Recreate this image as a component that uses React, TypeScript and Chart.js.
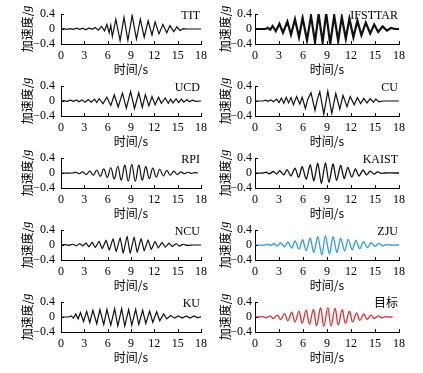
import React, { useEffect, useRef } from "react";
import { Chart, registerables } from "chart.js";
Chart.register(...registerables);

type P = [number, number];

const X_TICKS = [0, 3, 6, 9, 12, 15, 18];
const Y_TICKS = [-0.4, 0, 0.4];
const Y_TICK_LABELS: Record<string, string> = { "-0.4": "\u22120.4", "0": "0", "0.4": "0.4" };
const X_TITLE = "时间/s";
const Y_TITLE_MAIN = "加速度/";
const Y_TITLE_UNIT = "g";

const TIT: P[] = [[0,0],[0.4,0.01],[0.8,-0.01],[1.2,0.01],[1.6,-0.01],[2.0,0.02],[2.4,-0.01],[2.8,0.02],[3.2,-0.02],[3.6,0.03],[4.0,-0.01],[4.4,0.04],[4.8,-0.03],[5.2,0.07],[5.6,-0.05],[5.9,0.12],[6.2,-0.1],[6.4,0.1],[6.6,-0.2],[7.05,0.26],[7.6,-0.31],[8.1,0.31],[8.6,-0.3],[9.15,0.36],[9.7,-0.27],[10.2,0.26],[10.7,-0.22],[11.2,0.22],[11.7,-0.16],[12.1,0.19],[12.6,-0.13],[13.1,0.12],[13.6,-0.1],[14.0,0.09],[14.5,-0.07],[14.9,0.06],[15.3,-0.04],[15.7,0.01],[16.2,0],[17,0],[18,0]];
const IFSTTAR: P[] = [[0,0],[1.3,0],[1.6,0.03],[1.9,-0.02],[2.2,0.08],[2.6,-0.06],[3.05,0.14],[3.5,-0.1],[4.05,0.2],[4.5,-0.15],[5.0,0.26],[5.5,-0.22],[5.95,0.3],[6.5,-0.3],[7.0,0.35],[7.5,-0.35],[7.95,0.4],[8.45,-0.36],[8.9,0.42],[9.4,-0.4],[9.9,0.36],[10.4,-0.32],[10.85,0.32],[11.35,-0.26],[11.8,0.28],[12.3,-0.22],[12.8,0.22],[13.3,-0.17],[13.85,0.17],[14.4,-0.12],[14.9,0.12],[15.4,-0.08],[15.95,0.07],[16.5,-0.04],[17.0,0.03],[17.5,0],[18,0]];
const UCD: P[] = [[0,0],[0.4,0.01],[0.8,-0.01],[1.2,0.02],[1.6,-0.01],[2.0,0.03],[2.3,-0.02],[2.7,0.03],[3.1,-0.03],[3.5,0.04],[3.9,-0.03],[4.3,0.05],[4.6,-0.04],[4.9,0.06],[5.4,-0.07],[5.9,0.1],[6.4,-0.12],[6.85,0.16],[7.35,-0.16],[7.9,0.21],[8.4,-0.19],[8.95,0.25],[9.45,-0.2],[10.0,0.22],[10.45,-0.17],[10.85,0.17],[11.3,-0.13],[11.7,0.12],[12.1,-0.1],[12.55,0.1],[12.9,-0.06],[13.4,0.08],[13.8,-0.06],[14.1,0.05],[14.4,-0.05],[14.8,0.06],[15.1,-0.04],[15.5,0.05],[15.8,-0.03],[16.2,0.04],[16.5,-0.02],[16.9,0.02],[17.3,-0.01],[18,0]];
const CU: P[] = [[0,0],[1.0,0],[1.3,0.02],[1.6,-0.01],[2.0,0.03],[2.3,-0.02],[2.7,0.05],[3.0,-0.04],[3.3,0.08],[3.6,-0.06],[3.9,0.1],[4.2,-0.05],[4.5,0.09],[4.8,-0.1],[5.2,0.12],[5.6,-0.08],[5.9,0.1],[6.3,-0.2],[6.6,0.05],[7.0,0.22],[7.5,-0.25],[7.8,0.05],[8.1,0.25],[8.6,-0.35],[9.1,0.26],[9.6,-0.33],[10.1,0.2],[10.6,-0.22],[11.0,0.15],[11.5,-0.15],[11.9,0.12],[12.4,-0.1],[12.8,0.09],[13.2,-0.07],[13.6,0.07],[14.0,-0.05],[14.4,0.06],[14.8,-0.03],[15.1,0.05],[15.5,-0.02],[16,0],[18,0]];
const RPI: P[] = [[0,0],[1.5,0],[1.9,0.02],[2.35,-0.02],[2.8,0.03],[3.25,-0.04],[3.7,0.05],[4.15,-0.06],[4.6,0.08],[5.05,-0.09],[5.5,0.11],[5.95,-0.12],[6.4,0.14],[6.85,-0.16],[7.3,0.18],[7.75,-0.19],[8.2,0.21],[8.65,-0.22],[9.1,0.23],[9.55,-0.22],[10.0,0.21],[10.45,-0.19],[10.9,0.17],[11.35,-0.15],[11.8,0.13],[12.25,-0.11],[12.7,0.1],[13.15,-0.08],[13.6,0.07],[14.05,-0.06],[14.5,0.05],[14.95,-0.04],[15.4,0.03],[15.85,-0.02],[16.3,0.02],[16.75,-0.01],[17.2,0.01],[17.6,0]];
const KAIST: P[] = [[0,0],[1.0,0],[1.4,0.02],[1.8,-0.02],[2.3,0.04],[2.7,-0.03],[3.1,0.06],[3.6,-0.05],[4.0,0.09],[4.5,-0.08],[5.0,0.13],[5.45,-0.12],[5.9,0.17],[6.4,-0.17],[6.9,0.22],[7.35,-0.21],[7.85,0.26],[8.3,-0.28],[8.8,0.27],[9.25,-0.25],[9.75,0.24],[10.2,-0.2],[10.7,0.2],[11.15,-0.15],[11.6,0.15],[12.1,-0.11],[12.55,0.11],[13.0,-0.08],[13.5,0.08],[13.95,-0.05],[14.4,0.05],[14.9,-0.03],[15.3,0.03],[15.8,-0.01],[16.2,0],[18,0]];
const NCU: P[] = [[0,0],[0.5,0.01],[1,-0.01],[1.5,0.02],[2.0,-0.02],[2.4,0.04],[2.8,-0.03],[3.2,0.06],[3.6,-0.05],[4.0,0.08],[4.4,-0.07],[4.9,0.1],[5.3,-0.1],[5.8,0.13],[6.2,-0.14],[6.7,0.17],[7.1,-0.18],[7.6,0.2],[8.0,-0.22],[8.5,0.24],[8.9,-0.23],[9.4,0.22],[9.8,-0.2],[10.3,0.18],[10.7,-0.16],[11.2,0.14],[11.6,-0.12],[12.1,0.1],[12.5,-0.08],[13.0,0.07],[13.4,-0.06],[13.9,0.05],[14.3,-0.04],[14.8,0.04],[15.2,-0.03],[15.7,0.02],[16.2,-0.01],[17,0],[18,0]];
const ZJU: P[] = [[0,0],[1.2,0],[1.6,0.02],[2.0,-0.01],[2.4,0.04],[2.8,-0.03],[3.2,0.06],[3.7,-0.05],[4.1,0.08],[4.6,-0.08],[5.0,0.11],[5.5,-0.11],[5.95,0.14],[6.4,-0.15],[6.9,0.18],[7.35,-0.2],[7.85,0.22],[8.35,-0.27],[8.8,0.25],[9.3,-0.24],[9.75,0.22],[10.25,-0.2],[10.7,0.18],[11.2,-0.16],[11.65,0.15],[12.15,-0.13],[12.6,0.12],[13.1,-0.1],[13.55,0.09],[14.05,-0.07],[14.5,0.06],[15.0,-0.04],[15.45,0.04],[15.95,-0.02],[16.4,0.01],[17,0],[18,0]];
const KU: P[] = [[0,0],[1.0,0],[1.3,0.03],[1.6,-0.03],[1.9,0.08],[2.2,-0.05],[2.5,0.12],[2.9,-0.12],[3.3,0.15],[3.7,-0.15],[4.1,0.18],[4.6,-0.18],[5.0,0.2],[5.5,-0.2],[5.9,0.2],[6.4,-0.22],[6.9,0.22],[7.3,-0.24],[7.8,0.22],[8.2,-0.24],[8.7,0.2],[9.1,-0.22],[9.6,0.2],[10.0,-0.2],[10.5,0.18],[10.9,-0.17],[11.4,0.16],[11.8,-0.14],[12.3,0.14],[12.7,-0.1],[13.2,0.08],[13.6,-0.05],[14.1,0.04],[14.6,-0.03],[15.1,0.03],[15.6,-0.03],[16.1,0.03],[16.6,-0.03],[17.1,0.03],[17.6,-0.02],[18,0.01]];
const TARGET: P[] = [[0,0],[0.5,0],[1.0,0.01],[1.4,-0.02],[1.9,0.03],[2.3,-0.04],[2.8,0.05],[3.2,-0.07],[3.7,0.09],[4.1,-0.1],[4.6,0.12],[5.0,-0.13],[5.5,0.15],[5.9,-0.16],[6.4,0.18],[6.8,-0.19],[7.3,0.2],[7.7,-0.22],[8.2,0.24],[8.6,-0.25],[9.1,0.25],[9.5,-0.24],[10.0,0.23],[10.4,-0.21],[10.9,0.19],[11.3,-0.17],[11.8,0.15],[12.2,-0.13],[12.7,0.11],[13.1,-0.09],[13.6,0.08],[14.0,-0.06],[14.5,0.05],[14.9,-0.04],[15.4,0.03],[15.8,-0.02],[16.3,0.01],[16.8,0],[17.2,0]];

const PANEL_NAMES = ["TIT", "IFSTTAR", "UCD", "CU", "RPI", "KAIST", "NCU", "ZJU", "KU", "目标"];
const PANEL_SERIES = [TIT, IFSTTAR, UCD, CU, RPI, KAIST, NCU, ZJU, KU, TARGET];
const PANEL_COLORS = ["#111", "#111", "#111", "#111", "#111", "#111", "#111", "#2e9fd6", "#111", "#e0302e"];
const PANEL_WIDTHS = [1.2, 2.2, 1.2, 1.2, 1.2, 1.3, 1.2, 1.3, 1.2, 1.3];
const PANEL_TENSION = [0, 0, 0, 0, 0.4, 0.25, 0.1, 0.3, 0, 0.4];

const FONT = '"Liberation Serif", "Noto Sans CJK SC", serif';
const CJK_FONT = '"Noto Sans CJK SC", "Liberation Serif", serif';

const COL = [
  { left: 0, width: 212, axis: 61, plot: 142, titleOff: 34, tickPad: 6 },
  { left: 195, width: 228, axis: 255, plot: 144, titleOff: 30, tickPad: 3 },
];
const ROW_TOP = [14, 86, 158, 230, 302];
const PLOT_H = 30;
const CANVAS_H = 78;
const PAD_TOP = 14;

function Panel({ idx }: { idx: number }) {
  const ref = useRef<HTMLCanvasElement>(null);
  const col = COL[idx % 2];
  const row = Math.floor(idx / 2);
  const top = ROW_TOP[row] - PAD_TOP;
  useEffect(() => {
    const canvas = ref.current!;
    const name = PANEL_NAMES[idx];
    const decor = {
      id: "decor" + idx,
      afterDraw(chart: any) {
        const { ctx, chartArea } = chart;
        const { left, right, top: t, bottom } = chartArea;
        const xs = chart.scales.x;
        const ys = chart.scales.y;
        ctx.save();
        ctx.strokeStyle = "#000";
        ctx.lineWidth = 1;
        X_TICKS.forEach((v) => {
          const px = Math.round(xs.getPixelForValue(v)) + 0.5;
          ctx.beginPath();
          ctx.moveTo(px, bottom);
          ctx.lineTo(px, bottom - 3);
          ctx.stroke();
        });
        Y_TICKS.forEach((v) => {
          const py = Math.round(ys.getPixelForValue(v)) + 0.5;
          ctx.beginPath();
          ctx.moveTo(left, py);
          ctx.lineTo(left + 3, py);
          ctx.stroke();
        });
        ctx.fillStyle = "#000";
        ctx.textAlign = "right";
        ctx.textBaseline = "middle";
        ctx.font = "12px " + FONT;
        ctx.fillText(name, right - 1, t + 2);
        const cx = left - col.titleOff;
        const cy = (t + bottom) / 2;
        ctx.translate(cx, cy);
        ctx.rotate(-Math.PI / 2);
        ctx.font = "12px " + CJK_FONT;
        const w1 = ctx.measureText(Y_TITLE_MAIN).width;
        ctx.font = "italic 12px " + FONT;
        const w2 = ctx.measureText(Y_TITLE_UNIT).width;
        const start = -(w1 + w2) / 2;
        ctx.textAlign = "left";
        ctx.font = "12px " + CJK_FONT;
        ctx.fillText(Y_TITLE_MAIN, start, 0);
        ctx.font = "italic 12px " + FONT;
        ctx.fillText(Y_TITLE_UNIT, start + w1, 0);
        ctx.restore();
      },
    };
    const chart = new Chart(canvas, {
      type: "line",
      data: {
        datasets: [
          {
            data: PANEL_SERIES[idx].map(([x, y]) => ({ x, y })),
            borderColor: PANEL_COLORS[idx],
            borderWidth: PANEL_WIDTHS[idx],
            pointRadius: 0,
            tension: PANEL_TENSION[idx],
            fill: false,
          },
        ],
      },
      options: {
        responsive: false,
        animation: false,
        events: [],
        layout: {
          padding: { top: PAD_TOP, left: 0, bottom: 0, right: col.width - (col.axis - col.left) - col.plot },
        },
        plugins: { legend: { display: false }, tooltip: { enabled: false } },
        scales: {
          x: {
            type: "linear",
            min: 0,
            max: 18,
            afterBuildTicks: (s: any) => {
              s.ticks = X_TICKS.map((value) => ({ value }));
            },
            afterFit: (s: any) => {
              s.height = CANVAS_H - PAD_TOP - PLOT_H;
            },
            grid: { display: false, drawTicks: false },
            border: { display: true, color: "#000", width: 1 },
            ticks: { color: "#000", font: { family: FONT, size: 12 }, padding: 5, maxRotation: 0, autoSkip: false },
            title: { display: true, text: X_TITLE, color: "#000", font: { family: CJK_FONT, size: 12 }, padding: { top: 0, bottom: 1 } },
          },
          y: {
            min: -0.4,
            max: 0.4,
            afterBuildTicks: (s: any) => {
              s.ticks = Y_TICKS.map((value) => ({ value }));
            },
            afterFit: (s: any) => {
              s.width = col.axis - col.left;
            },
            grid: { display: false, drawTicks: false },
            border: { display: true, color: "#000", width: 1 },
            ticks: {
              color: "#000",
              font: { family: FONT, size: 12 },
              padding: col.tickPad,
              autoSkip: false,
              callback: (v: any) => Y_TICK_LABELS[String(Math.round(Number(v) * 10) / 10)] ?? String(v),
            },
          },
        },
      },
      plugins: [decor],
    } as any);
    return () => chart.destroy();
  }, [idx]);
  return (
    <canvas
      ref={ref}
      width={col.width}
      height={CANVAS_H}
      style={{ position: "absolute", left: col.left, top, width: col.width, height: CANVAS_H }}
    />
  );
}

export default function App() {
  return (
    <div style={{ position: "absolute", left: 0, top: 0, width: 423, height: 373, background: "#fff", overflow: "hidden" }}>
      {PANEL_NAMES.map((_, i) => (
        <Panel key={i} idx={i} />
      ))}
    </div>
  );
}
